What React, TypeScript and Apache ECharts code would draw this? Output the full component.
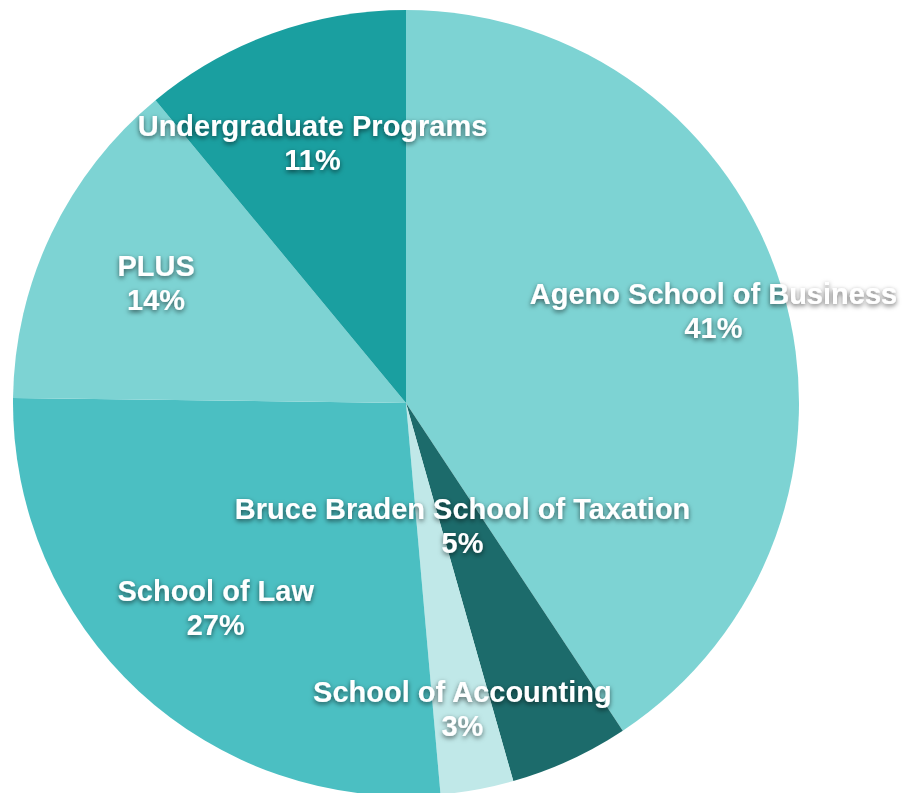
import React, { useEffect, useRef } from "react";
import * as echarts from "echarts";

const categories = [
  "Ageno School of Business",
  "Bruce Braden School of Taxation",
  "School of Accounting",
  "School of Law",
  "PLUS",
  "Undergraduate Programs",
];
const values = [40.7, 4.9, 3.0, 26.6, 13.8, 11.0];
const colors = ["#7dd3d3", "#1c6b6b", "#c0e8e8", "#4bbfc2", "#7dd3d3", "#1a9fa0"];
const labelRadiusFraction = [0.817, 0.345, 0.792, 0.712, 0.705, 0.702];

const CX = 406;
const CY = 403;
const R = 393;

export default function App() {
  const ref = useRef<HTMLDivElement>(null);
  useEffect(() => {
    if (!ref.current) return;
    const chart = echarts.init(ref.current, null, { renderer: "svg" });
    const total = values.reduce((a, b) => a + b, 0);
    const midAngles: number[] = [];
    let acc = 0;
    values.forEach((v) => {
      midAngles.push(((acc + v / 2) / total) * Math.PI * 2);
      acc += v;
    });
    chart.setOption({
      animation: false,
      series: [
        {
          type: "pie",
          center: [CX, CY],
          radius: [0, R],
          startAngle: 90,
          clockwise: true,
          data: categories.map((name, i) => ({
            name,
            value: values[i],
            itemStyle: { color: colors[i] },
          })),
          itemStyle: { borderWidth: 0 },
          label: {
            show: true,
            position: "inside",
            formatter: (p: any) => `${p.name}\n${Math.round(p.percent)}%`,
            color: "#ffffff",
            fontFamily: "Liberation Sans, Arial, sans-serif",
            fontWeight: "bold",
            fontSize: 29,
            lineHeight: 34,
            align: "center",
            textShadowColor: "rgba(0,0,0,0.6)",
            textShadowBlur: 5,
            textShadowOffsetX: 0,
            textShadowOffsetY: 2,
          },
          labelLine: { show: false },
          labelLayout: (params: any) => {
            const i = params.dataIndex;
            const a = midAngles[i];
            const r = labelRadiusFraction[i] * R;
            return {
              x: CX + r * Math.sin(a),
              y: CY - r * Math.cos(a),
              align: "center",
              verticalAlign: "middle",
            };
          },
          emphasis: { disabled: true },
        },
      ],
    });
    return () => chart.dispose();
  }, []);
  return (
    <div
      ref={ref}
      style={{ position: "fixed", left: 0, top: 0, width: 902, height: 793, background: "#ffffff" }}
    />
  );
}
